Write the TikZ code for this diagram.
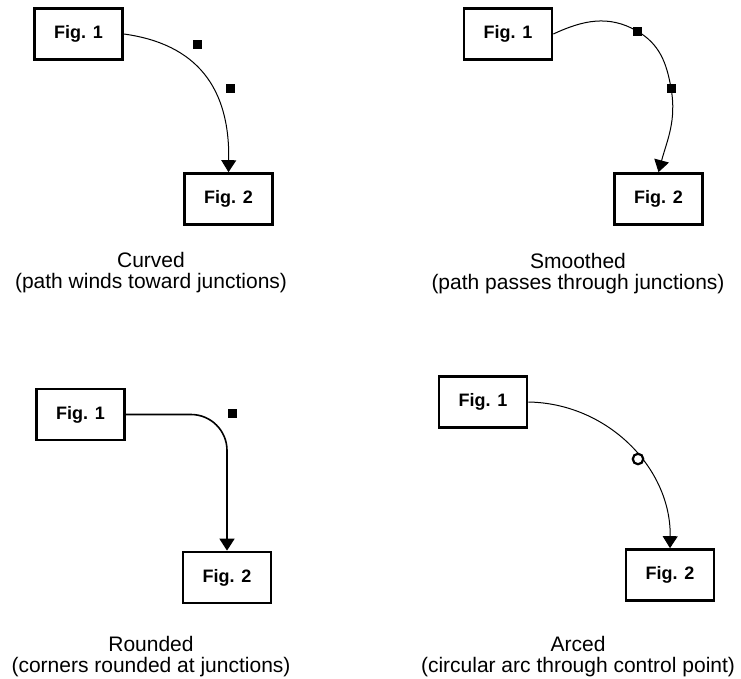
\documentclass[tikz,border=0pt]{standalone}
\usepackage{fontspec}
\setmainfont{Liberation Sans}
\usetikzlibrary{arrows.meta, positioning}

\begin{document}
\begin{tikzpicture}[
  x=1pt, y=-1pt,
  fig/.style={draw, line width=2.7pt, minimum width=88pt, minimum height=51pt, inner sep=0pt, font=\fontsize{18}{20}\selectfont\bfseries},
  junc/.style={fill=black, minimum size=9pt, inner sep=0pt},
  ctrl/.style={draw, circle, fill=white, line width=2.2pt, minimum size=10.5pt, inner sep=0pt},
  figcap/.style={align=center, anchor=north, inner sep=0pt, font=\fontsize{21}{21.5}\selectfont},
  arr/.style={line width=1pt, -{Triangle[length=12pt, width=15pt]}}
]
\useasboundingbox (0,0) rectangle (741,678);

% curved
\node[fig] (s1) at (78.5,34) {Fig. 1};
\node[fig] (t1) at (228.5,199) {Fig. 2};
\node[junc] (j1a) at (197,44) {};
\node[junc] (j1b) at (230,88) {};
\draw[arr] (s1.east) .. controls (j1a.center) and (j1b.center) .. (t1.north);
\node[figcap] (c1) at (151,252) {Curved\\(path winds toward junctions)};

% smoothed
\node[fig] (s2) at (508,34) {Fig. 1};
\node[fig] (t2) at (658.5,199) {Fig. 2};
\node[junc] (j2a) at (637,31) {};
\node[junc] (j2b) at (671,88) {};
\draw[arr] (s2.east) to[out=25, in=150] (j2a.center)
  to[out=-30, in=100] (j2b.center)
  to[out=-80, in=75] (t2.north);
\node[figcap] (c2) at (578,253) {Smoothed\\(path passes through junctions)};

% rounded
\node[fig] (s3) at (80.5,414.5) {Fig. 1};
\node[fig] (t3) at (227,577.5) {Fig. 2};
\node[junc] (j3) at (232,413) {};
\draw[arr, line width=1.6pt, rounded corners=36pt] (s3.east) -| (t3.north);
\node[figcap] (c3) at (151,636) {Rounded\\(corners rounded at junctions)};

% arced
\node[fig] (s4) at (483,402) {Fig. 1};
\node[fig] (t4) at (670,575) {Fig. 2};
\draw[arr] (s4.east) to[bend left=45] (t4.north);
\node[ctrl] (k4) at (638,459) {};
\node[figcap] (c4) at (578,636) {Arced\\(circular arc through control point)};
\end{tikzpicture}
\end{document}
